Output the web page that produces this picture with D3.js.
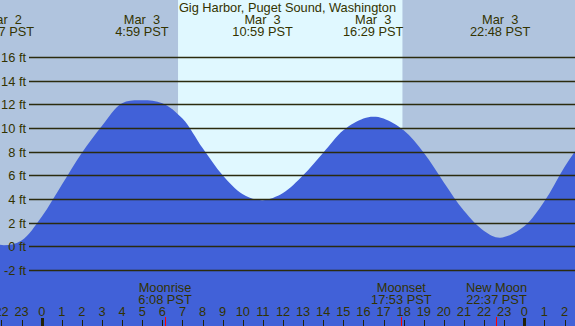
<!DOCTYPE html>
<html>
<head>
<meta charset="utf-8">
<script src="https://cdn.jsdelivr.net/npm/d3@7"></script>
<style>
  body { margin: 0; padding: 0; background: #fff; }
  svg { display: block; }
  text { font-family: "Liberation Sans", Arial, sans-serif; font-size: 12.8px; fill: #333300; white-space: pre; }
</style>
</head>
<body>
<div id="box"></div>
<script>
// hourly heights (hours from midnight Mar 3)
var hours   = [-3, -2, -1, 0, 1, 2, 3, 4, 5, 6, 7, 8, 9, 10, 11, 12, 13, 14, 15, 16, 17, 18, 19, 20, 21, 22, 23, 24, 25, 26, 27];
var heights = [0.6, 0.12, 0.5, 2.5, 5.2, 7.9, 10.2, 12.1, 12.35, 12.1, 10.8, 8.3, 6.0, 4.4, 3.9, 4.5, 6.0, 7.9, 9.8, 10.8, 10.8, 9.8, 7.9, 5.4, 3.0, 1.3, 0.75, 1.7, 3.8, 6.7, 9.2];

// highs and lows
var tideHours   = [-1.883, 4.983, 10.983, 16.483, 22.8];
var tideHeights = [0.1, 12.35, 3.9, 10.95, 0.73];
var tideDates   = ["Mar  2", "Mar  3", "Mar  3", "Mar  3", "Mar  3"];
var tideTimes   = ["22:07 PST", "4:59 PST", "10:59 PST", "16:29 PST", "22:48 PST"];

// moon stuff along the bottom
var moonHours = [6.133, 17.883, 22.617];
var moonNames = ["Moonrise", "Moonset", "New Moon"];
var moonTimes = ["6:08 PST", "17:53 PST", "22:37 PST"];

var sunrise = 6.78;
var sunset = 17.94;

var yTicks = [-2, 0, 2, 4, 6, 8, 10, 12, 14, 16];
var hourTicks = d3.range(-2, 27);
var title = "Gig Harbor, Puget Sound, Washington";

var width = 575;
var height = 326;

var svg = d3.select("#box").append("svg")
  .attr("width", width)
  .attr("height", height);

var x = d3.scaleLinear().domain([0, 24]).range([41.7, 524.3]);
var y = d3.scaleLinear().domain([-2, 16]).range([270, 57]);

// night / day background
svg.append("rect")
  .attr("x", 0).attr("y", 0)
  .attr("width", width).attr("height", height)
  .attr("fill", "#b0c4de");

svg.append("rect")
  .attr("x", x(sunrise)).attr("y", 0)
  .attr("width", x(sunset) - x(sunrise)).attr("height", height)
  .attr("fill", "#e0f8ff");

// put the highs/lows in with the hourly points so the peaks land right,
// dropping hourly points that sit right on top of one
var pts = [];
hours.forEach(function(h, i) {
  var near = tideHours.some(function(t) { return Math.abs(t - h) < 0.3; });
  if (!near) pts.push([h, heights[i]]);
});
tideHours.forEach(function(h, i) { pts.push([h, tideHeights[i]]); });
pts.sort(function(a, b) { return a[0] - b[0]; });

var area = d3.area()
  .x(function(d) { return x(d[0]); })
  .y0(height)
  .y1(function(d) { return y(d[1]); })
  .curve(d3.curveCatmullRom.alpha(0.5));

svg.append("path")
  .datum(pts)
  .attr("d", area)
  .attr("fill", "#4161d8");

// grid lines + ft labels
var grid = svg.append("g");
grid.selectAll("line")
  .data(yTicks)
  .enter()
  .append("line")
  .attr("x1", 29)
  .attr("x2", width)
  .attr("y1", function(d) { return Math.round(y(d)) + 0.5; })
  .attr("y2", function(d) { return Math.round(y(d)) + 0.5; })
  .attr("stroke", "#2b2b0e")
  .attr("stroke-width", 1.3);

grid.selectAll("text")
  .data(yTicks)
  .enter()
  .append("text")
  .attr("x", 26)
  .attr("y", function(d) { return Math.round(y(d)) + 5; })
  .attr("text-anchor", "end")
  .text(function(d) { return d + " ft"; });

// title
svg.append("text")
  .attr("x", width / 2)
  .attr("y", 11.5)
  .attr("text-anchor", "middle")
  .text(title);

// tide labels on top
var tl = svg.selectAll(".tide")
  .data(tideHours)
  .enter()
  .append("g")
  .attr("class", "tide");

tl.append("text")
  .attr("x", function(d) { return x(d); })
  .attr("y", 23.5)
  .attr("text-anchor", "middle")
  .text(function(d, i) { return tideDates[i]; });

tl.append("text")
  .attr("x", function(d) { return x(d); })
  .attr("y", 35.5)
  .attr("text-anchor", "middle")
  .text(function(d, i) { return tideTimes[i]; });

// hour ticks along the bottom
var xt = svg.append("g");
xt.selectAll("line")
  .data(hourTicks)
  .enter()
  .append("line")
  .attr("x1", function(d) { return Math.round(x(d)) + 0.5; })
  .attr("x2", function(d) { return Math.round(x(d)) + 0.5; })
  .attr("y1", function(d) { return d % 24 == 0 ? 318 : 320; })
  .attr("y2", height)
  .attr("stroke", "#222208")
  .attr("stroke-width", function(d) { return d % 24 == 0 ? 3 : 1; });

xt.selectAll("text")
  .data(hourTicks)
  .enter()
  .append("text")
  .attr("x", function(d) { return x(d); })
  .attr("y", 316)
  .attr("text-anchor", "middle")
  .text(function(d) { return (d + 24) % 24; });

// moon events
var ml = svg.selectAll(".moon")
  .data(moonHours)
  .enter()
  .append("g")
  .attr("class", "moon");

ml.append("line")
  .attr("x1", function(d) { return Math.round(x(d)) + 0.5; })
  .attr("x2", function(d) { return Math.round(x(d)) + 0.5; })
  .attr("y1", 317)
  .attr("y2", height)
  .attr("stroke", "#ff0000")
  .attr("stroke-width", 1);

ml.append("text")
  .attr("x", function(d) { return x(d); })
  .attr("y", 292)
  .attr("text-anchor", "middle")
  .text(function(d, i) { return moonNames[i]; });

ml.append("text")
  .attr("x", function(d) { return x(d); })
  .attr("y", 303.5)
  .attr("text-anchor", "middle")
  .text(function(d, i) { return moonTimes[i]; });
</script>
</body>
</html>
